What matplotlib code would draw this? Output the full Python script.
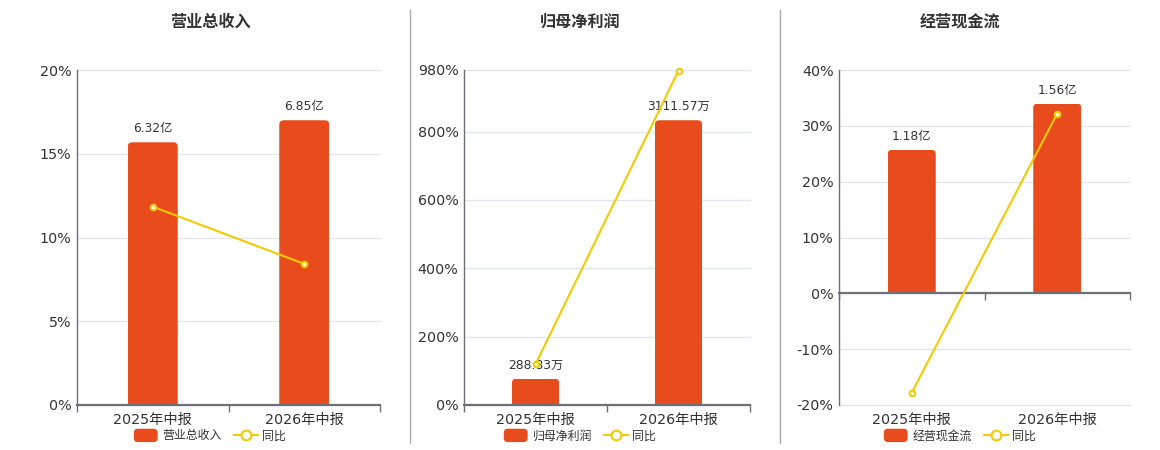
import matplotlib
matplotlib.use('Agg')
import matplotlib.pyplot as plt
from matplotlib.ticker import FuncFormatter, FixedLocator
from matplotlib.lines import Line2D
from matplotlib.patches import Patch, FancyBboxPatch
from matplotlib.legend_handler import HandlerPatch

plt.rcParams['font.family'] = ['DejaVu Sans', 'Noto Sans CJK SC']

# ---------------- data ----------------
categories = ['2025年中报', '2026年中报']
titles = ['营业总收入', '归母净利润', '经营现金流']
bar_values_rev = [6.32, 6.85]
bar_values_np = [288.83, 3111.57]
bar_values_cf = [1.18, 1.56]
bar_labels_rev = ['6.32亿', '6.85亿']
bar_labels_np = ['288.83万', '3111.57万']
bar_labels_cf = ['1.18亿', '1.56亿']
yoy_rev = [11.84, 8.42]
yoy_np = [119.0, 978.0]
yoy_cf = [-17.8, 32.2]
yticks_rev = [0, 5, 10, 15, 20]
yticks_np = [0, 200, 400, 600, 800, 980]
yticks_cf = [-20, -10, 0, 10, 20, 30, 40]
legend_yoy = '同比'

panels = [
    (titles[0], bar_values_rev, bar_labels_rev, yoy_rev, yticks_rev),
    (titles[1], bar_values_np, bar_labels_np, yoy_np, yticks_np),
    (titles[2], bar_values_cf, bar_labels_cf, yoy_cf, yticks_cf),
]

# ---------------- style ----------------
W, H = 1160, 450
BAR_COLOR = '#E84C1C'
LINE_COLOR = '#F2CA00'
AXIS_COLOR = '#6E7079'
GRID_COLOR = '#E0E6F1'
TEXT_COLOR = '#333333'
x_ranges = [(77, 380), (464, 750), (839, 1130)]
centers = [210, 580, 960]
top_px, bottom_px = 70, 405
RADIUS_PX = 4.5

fig = plt.figure(figsize=(W / 100, H / 100), dpi=100)

def fx(px):
    return px / W

def fy(py):
    return 1 - py / H

def rounded_handle(legend, orig_handle, xdescent, ydescent, width, height, fontsize):
    h = height * 1.25
    return FancyBboxPatch((-xdescent, -ydescent - (h - height) / 2), width, h,
                          boxstyle='round,pad=0,rounding_size=3')

for i, (title, bars, blabels, yoy, yt) in enumerate(panels):
    x0, x1 = x_ranges[i]
    rect = [fx(x0), fy(bottom_px), fx(x1) - fx(x0), fy(top_px) - fy(bottom_px)]
    ax_w_px = x1 - x0
    ax_h_px = bottom_px - top_px
    ymin, ymax = yt[0], yt[-1]
    xs = list(range(len(categories)))
    xspan = len(categories)

    # grid / y-axis layer
    axg = fig.add_axes(rect)
    axg.set_xlim(-0.5, len(categories) - 0.5)
    axg.set_ylim(ymin, ymax)
    axg.yaxis.set_major_locator(FixedLocator(yt))
    axg.yaxis.set_major_formatter(FuncFormatter(lambda v, p: f'{v:g}%'))
    axg.yaxis.grid(True, color=GRID_COLOR, lw=1)
    for gl in axg.yaxis.get_gridlines():
        gl.set_clip_on(False)
    axg.set_axisbelow(True)
    axg.set_xticks(xs)
    axg.set_xticklabels(categories)
    axg.tick_params(axis='x', length=0, pad=6, labelsize=10.3, colors=TEXT_COLOR)
    axg.tick_params(axis='y', length=0, pad=4, labelsize=10.3, colors=TEXT_COLOR)
    for s in ['top', 'right', 'bottom']:
        axg.spines[s].set_visible(False)
    axg.spines['left'].set_color(AXIS_COLOR)
    axg.spines['left'].set_linewidth(1)

    # bar layer
    axb = fig.add_axes(rect)
    axb.patch.set_visible(False)
    axb.set_xlim(-0.5, len(categories) - 0.5)
    btop = max(bars) / 0.85
    bbot = btop * ymin / ymax
    axb.set_ylim(bbot, btop)
    rects = axb.bar(xs, bars, width=0.33, color=BAR_COLOR, zorder=2)
    px_per_x = ax_w_px / xspan
    px_per_y = ax_h_px / (btop - bbot)
    r_x = RADIUS_PX / px_per_x
    r_y = RADIUS_PX / px_per_y
    for r, lab in zip(rects, blabels):
        r.set_visible(False)
        rb = FancyBboxPatch((r.get_x(), r.get_y() - r_y * 2), r.get_width(),
                            r.get_height() + r_y * 2,
                            boxstyle=f'round,pad=0,rounding_size={r_x}',
                            mutation_aspect=r_y / r_x,
                            facecolor=BAR_COLOR, edgecolor='none', zorder=2)
        axb.add_patch(rb)
        clip = plt.Rectangle((r.get_x(), r.get_y()), r.get_width(), r.get_height(),
                             transform=axb.transData)
        rb.set_clip_path(clip)
        axb.annotate(lab, (r.get_x() + r.get_width() / 2, r.get_height()),
                     xytext=(0, 5), textcoords='offset points',
                     ha='center', va='bottom', fontsize=8.8, color=TEXT_COLOR)
    axb.axis('off')

    # line layer
    axl = fig.add_axes(rect)
    axl.patch.set_visible(False)
    axl.set_xlim(-0.5, len(categories) - 0.5)
    axl.set_ylim(ymin, ymax)
    axl.plot(xs, yoy, color=LINE_COLOR, lw=1.5, marker='o', ms=4,
             mfc='white', mec=LINE_COLOR, mew=1.5, zorder=5, clip_on=False)
    for s in ['top', 'right', 'left']:
        axl.spines[s].set_visible(False)
    axl.spines['bottom'].set_position(('data', 0))
    axl.spines['bottom'].set_color(AXIS_COLOR)
    axl.spines['bottom'].set_linewidth(1.6)
    axl.set_xticks([k - 0.5 for k in range(len(categories) + 1)])
    axl.set_xticklabels([])
    axl.tick_params(axis='x', length=5, width=1, color=AXIS_COLOR, direction='out')
    axl.set_yticks([])

    # title
    fig.text(fx(centers[i]), fy(22), title, ha='center', va='center',
             fontsize=11.6, fontweight='bold', color=TEXT_COLOR)

    # legend
    bar_handle = Patch(facecolor=BAR_COLOR, edgecolor='none')
    handles = [bar_handle,
               Line2D([0], [0], color=LINE_COLOR, lw=1.5, marker='o', ms=7,
                      mfc='white', mec=LINE_COLOR, mew=1.5)]
    fig.legend(handles, [title, legend_yoy], loc='center',
               bbox_to_anchor=(fx(centers[i]), fy(436)), ncol=2, frameon=False,
               fontsize=8.6, handlelength=2.0, handleheight=1.0,
               handletextpad=0.4, columnspacing=1.0, labelcolor='#333333',
               handler_map={bar_handle: HandlerPatch(patch_func=rounded_handle)})

# dividers
for xd in [410, 780]:
    fig.add_artist(Line2D([fx(xd), fx(xd)], [fy(10), fy(443)], color='#AAAAAA', lw=1))

fig.savefig('out.png', dpi=100)
